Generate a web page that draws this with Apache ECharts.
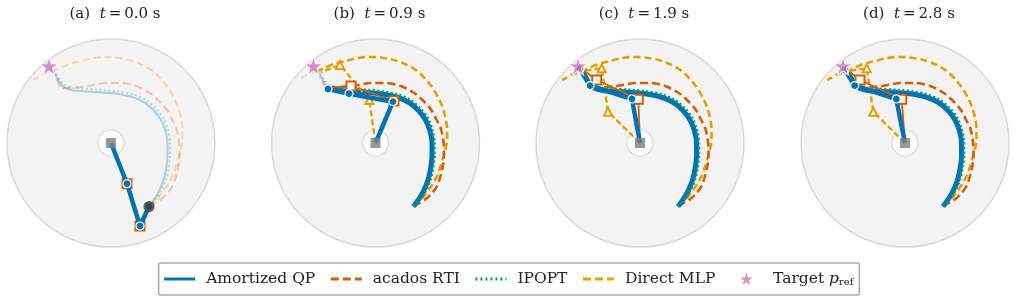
<!DOCTYPE html>
<html><head><meta charset="utf-8">
<script src="https://cdn.jsdelivr.net/npm/echarts@6/dist/echarts.min.js"></script>
<style>html,body{margin:0;padding:0;background:#fff;}#c{width:1016px;height:301px;}</style>
</head><body><div id="c"></div>
<script>
// ---------------- data (workspace units, base joint at origin) ----------------
const panelLabels = ['(a)', '(b)', '(c)', '(d)'];
const panelTimes = ['0.0', '0.9', '1.9', '2.8'];
const workspaceRadius = 104;
const innerRadius = 13;
const target = [-62, 77];
const start = [38, -63.5];

const qpPath = [[38,-63.5],[44,-55],[48.5,-47],[52.5,-37],[55,-26],[56.5,-13],[56.5,0],[54.5,12],[50,23],[43,32.5],[33.5,40.5],[21,46],[7,49],[-8,50.5],[-23,51.5],[-37,52.5],[-46,55],[-51,60],[-55,67],[-60,74.5]];
const ipoptPath = [[38,-63.5],[46.5,-54],[51,-46],[55,-36.5],[57.5,-25.5],[59,-13],[59,0],[57,12.5],[52.5,24.5],[45,34.5],[35,43],[22,48.5],[7.5,51.5],[-8,53],[-23,54],[-37,55],[-46,57.5],[-51,62.5],[-55,69],[-60,75]];
const rtiPath = [[38,-63],[44,-60],[51.2,-55.3],[57,-49.5],[61.2,-43.7],[65,-33],[67.8,-20.3],[68.5,-8],[67.8,3],[65.5,14],[61.2,23],[55.2,34],[47,43],[38,50.5],[25.2,57],[10,60],[-5,60],[-17,58],[-27,56.5],[-38,55.5],[-49.5,55],[-54,63],[-57.5,70],[-60,75]];
const mlpPath = [[38,-63],[43,-59],[47.8,-53.7],[53,-47],[57.8,-40.3],[62,-32],[65,-23.7],[69,-10],[71.5,3],[71.5,14],[70,25],[67,36],[62.5,46],[56.5,56],[49,65],[41.8,72],[30.5,78.5],[18.5,83],[5,85.5],[-8.2,86],[-20,84.5],[-30,82],[-41,79],[-50,75.5],[-57.7,72],[-67.7,68.5],[-77.7,63]];

// index of the last executed point in each panel
const qpDone = [0, 16, 19, 19];
const ipoptDone = [0, 16, 19, 19];
const rtiDone = [0, 20, 23, 23];
const mlpDone = [0, 24, 26, 26];

// arm joints [J1, J2, EE] per panel (base at origin)
const qpArm = [[[16,-40.7],[29,-83],[38,-63.5]], [[17.5,41.3],[-26.5,49.3],[-47.5,54]], [[-8,44],[-50,57.3],[-60,74]], [[-8.7,44],[-50.3,57.3],[-60,73]]];
const rtiArm = [[[16,-40.7],[29,-83],[38,-63.5]], [[18.5,42],[-24.5,57],[-49.5,55]], [[-1.7,43.7],[-43.3,63],[-60,75]], [[-3.3,43.7],[-45,63],[-60,75]]];
const mlpArm = [null, [[-6.2,43],[-35.5,78],[-54.5,71]], [[-32,31.3],[-38.3,74.7],[-58,72]], [[-31.7,31.3],[-38.3,74.7],[-58,72]]];

// ---------------- chart ----------------
const C = {qp:'#0173b2', rti:'#d55e00', ipopt:'#029e73', mlp:'#e69f00', star:'#cc78bc'};
const SERIF = 'DejaVu Serif';
const centers = [111, 375.5, 640, 905];
const half = 110, cy = 143;

const grids = [], xAxes = [], yAxes = [], series = [], titles = [];
centers.forEach((cx, i) => {
  grids.push({left: cx - half, top: cy - half, width: 2*half, height: 2*half});
  xAxes.push({type:'value', gridIndex:i, min:-half, max:half, show:false});
  yAxes.push({type:'value', gridIndex:i, min:-half, max:half, show:false});
  titles.push({text: panelLabels[i] + '  {it|t}\u2009=\u2009' + panelTimes[i] + ' s', left: cx - 1, top: 2, textAlign:'center',
    textStyle:{fontFamily:SERIF, fontSize:15, fontWeight:'normal', color:'#222',
      rich:{it:{fontFamily:SERIF, fontStyle:'italic', fontSize:15, color:'#222'}}}});
  const ax = {xAxisIndex:i, yAxisIndex:i};
  series.push(Object.assign({type:'custom', silent:true, z:1, data:[[0,0]],
    renderItem:(p, api) => {
      const c = api.coord([0,0]);
      const r = api.size([workspaceRadius,0])[0];
      const ri = api.size([innerRadius,0])[0];
      return {type:'group', children:[
        {type:'circle', shape:{cx:c[0], cy:c[1], r:r}, style:{fill:'#f3f3f3', stroke:'#d9d9d9', lineWidth:1.5}},
        {type:'circle', shape:{cx:c[0], cy:c[1], r:ri}, style:{fill:'#ffffff', stroke:'#d9d9d9', lineWidth:1.2}}
      ]};
    }}, ax));

  const methods = [
    {name:'Direct MLP', path:mlpPath, done:mlpDone[i], color:C.mlp, width:2.6, type:[7,4], z:3},
    {name:'acados RTI', path:rtiPath, done:rtiDone[i], color:C.rti, width:2.6, type:[8,4], z:4},
    {name:'Amortized QP', path:qpPath, done:qpDone[i], color:C.qp, width:5, type:'solid', z:5},
    {name:'IPOPT', path:ipoptPath, done:ipoptDone[i], color:C.ipopt, width:2.6, type:[2,2.5], z:6},
  ];
  methods.forEach(m => {
    const faded = m.path.slice(m.done);
    if (faded.length > 1) series.push(Object.assign({type:'line', name:m.name + ' (plan)', data:faded, symbol:'none', smooth:0.3,
      silent:true, z:2, lineStyle:{color:m.color, width:2.2, type:m.type, opacity:0.28}}, ax));
  });
  methods.forEach(m => {
    if (m.done > 0) series.push(Object.assign({type:'line', name:m.name, data:m.path.slice(0, m.done+1), symbol:'none', smooth:0.3,
      z:m.z, lineStyle:{color:m.color, width:m.width, type:m.type}, itemStyle:{color:m.color}}, ax));
  });

  if (mlpArm[i]) series.push(Object.assign({type:'line', name:'mlp arm', data:[{value:[0,0], symbol:'none'}, {value:mlpArm[i][0]}, {value:mlpArm[i][1]}, {value:mlpArm[i][2], symbol:'none'}],
    symbol:'emptyTriangle', symbolSize:8, showSymbol:true, z:7, silent:true,
    lineStyle:{color:C.mlp, width:2.4, type:[6,3]}, itemStyle:{color:C.mlp, borderWidth:1.6}}, ax));
  series.push(Object.assign({type:'line', name:'rti arm', data:[{value:[0,0], symbol:'none'}, {value:rtiArm[i][0]}, {value:rtiArm[i][1]}, {value:rtiArm[i][2], symbol:'none'}],
    symbol:'emptyRect', symbolSize:9, showSymbol:true, z:8, silent:true,
    lineStyle:{color:C.rti, width:1.8}, itemStyle:{color:C.rti, borderWidth:1.5}}, ax));
  series.push(Object.assign({type:'line', name:'qp arm', data:[{value:[0,0], symbol:'none'}].concat(qpArm[i].map(p => ({value:p}))),
    symbol:'circle', symbolSize:8, showSymbol:true, z:9, silent:true,
    lineStyle:{color:C.qp, width:4.5}, itemStyle:{color:C.qp, borderColor:'#fff', borderWidth:1.2}}, ax));
  series.push(Object.assign({type:'scatter', name:'base', data:[[0,0]], symbol:'rect', symbolSize:10, z:10, silent:true,
    itemStyle:{color:'#808080'}}, ax));
  if (i === 0) series.push(Object.assign({type:'scatter', name:'start', data:[start], symbol:'circle', symbolSize:11, z:10, silent:true,
    itemStyle:{color:'#383838'}}, ax));
  series.push(Object.assign({type:'scatter', name:'Target p_ref', data:[target], symbol:'path://M0,-10L2.35,-3.24L9.51,-3.09L3.80,1.24L5.88,8.09L0,4L-5.88,8.09L-3.80,1.24L-9.51,-3.09L-2.35,-3.24Z',
    symbolSize:18, z:11, itemStyle:{color:C.star, borderColor:'#fff', borderWidth:1.2}}, ax));
});

const legendNames = ['Amortized QP', 'acados RTI', 'IPOPT', 'Direct MLP', 'Target p_ref'];
const legendStyles = [
  {lineStyle:{color:C.qp, width:3, type:'solid'}, itemStyle:{opacity:0}},
  {lineStyle:{color:C.rti, width:3, type:[8,4]}, itemStyle:{opacity:0}},
  {lineStyle:{color:C.ipopt, width:3, type:[2,3]}, itemStyle:{opacity:0}},
  {lineStyle:{color:C.mlp, width:3, type:[8,4]}, itemStyle:{opacity:0}},
  {itemStyle:{color:C.star, borderWidth:0}}
];

const chart = echarts.init(document.getElementById('c'), null, {renderer:'canvas'});
chart.setOption({
  animation:false,
  title:titles,
  grid:grids, xAxis:xAxes, yAxis:yAxes,
  legend:{
    data: legendNames.map((n, k) => Object.assign({name:n}, legendStyles[k])),
    left:'center', top:263, orient:'horizontal',
    itemWidth:31, itemHeight:12, itemGap:14,
    padding:[8,6,8,4], borderColor:'#aaaaaa', borderWidth:1.5, borderRadius:2, backgroundColor:'#fff',
    selectedMode:false,
    formatter: n => n === 'Target p_ref' ? 'Target {it|p}{sub|ref}' : (n === 'Direct MLP' ? n + '\u2002\u2009' : n),
    textStyle:{fontFamily:SERIF, fontSize:15.5, color:'#222', padding:[0,0,0,6],
      rich:{it:{fontFamily:SERIF, fontStyle:'italic', fontSize:15.5, color:'#222'},
            sub:{fontFamily:SERIF, fontSize:10, color:'#222', verticalAlign:'bottom', lineHeight:10}}}
  },
  series:series
});
</script></body></html>
